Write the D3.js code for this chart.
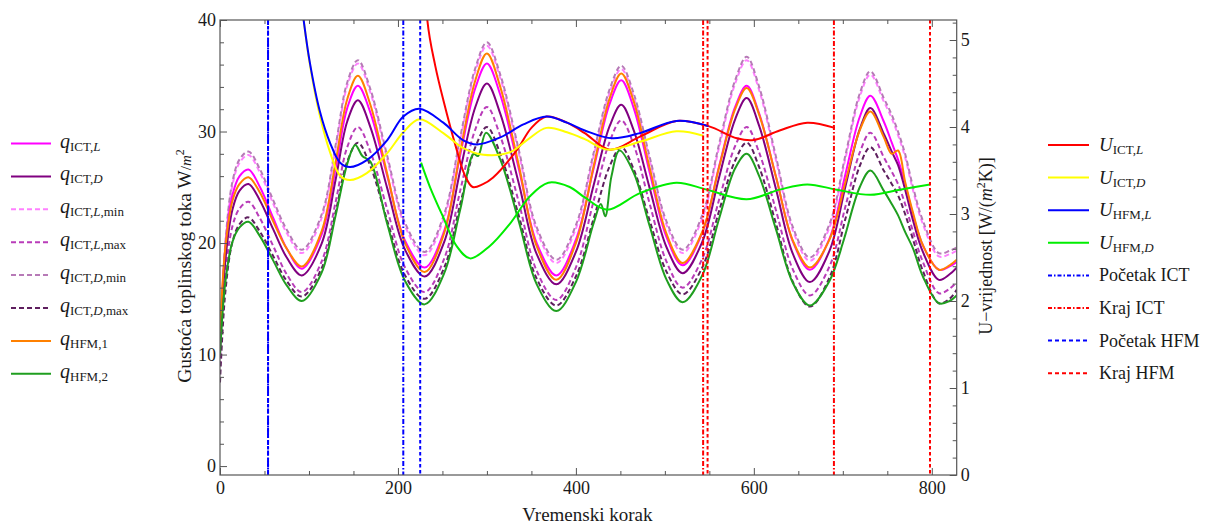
<!DOCTYPE html>
<html><head><meta charset="utf-8">
<script src="https://cdn.jsdelivr.net/npm/d3@7"></script>
<style>
body{margin:0;background:#fff}
text{font-family:"Liberation Serif","Times New Roman",serif;fill:#1a1a1a}
</style></head>
<body><svg id="c" width="1216" height="529"></svg>
<script>
// ---------- data ----------
const qSteps = [0,6,14,22,32,45,60,75,92,114,130,143,155,169,188,208,230,252,270,287,300,315,336,356,378,400,420,438,451,465,483,502,520,542,561,579,592,606,625,644,663,685,703,719,731,746,755,762,770,779,790,808,820,828];
const qIctL = [11.0,19.6,24.3,26.0,26.6,25.0,22.2,19.5,17.7,20.7,26.7,32.1,34.1,31.7,26.0,20.2,17.8,21.1,27.9,33.9,36.1,33.3,26.6,20.0,17.1,20.3,26.7,32.5,34.6,32.1,26.3,20.5,18.0,20.9,26.9,32.2,34.1,31.6,25.9,20.1,17.6,20.4,26.2,31.3,33.2,30.9,29.0,27.5,25.3,22.5,19.8,17.6,17.9,18.3];
const qIctD = [10.0,18.4,23.0,24.7,25.3,23.8,21.2,18.7,17.1,19.9,25.7,30.9,32.8,30.4,24.9,19.4,17.0,20.1,26.5,32.2,34.3,31.6,25.3,19.0,16.3,19.2,25.2,30.5,32.4,30.1,24.9,19.6,17.3,20.1,25.9,31.1,33.0,30.5,24.8,19.0,16.5,19.3,25.1,30.2,32.1,29.8,28.2,27.0,24.8,22.0,19.2,16.7,17.2,17.8];
const qIctLMin = [9.7,19.7,25.2,27.2,27.9,26.3,23.5,20.9,19.1,22.2,28.5,34.1,36.1,33.5,27.5,21.5,18.9,22.3,29.2,35.4,37.7,34.8,28.0,21.1,18.2,21.3,27.8,33.5,35.6,33.1,27.4,21.6,19.1,22.2,28.6,34.3,36.4,33.7,27.4,21.1,18.4,21.4,27.6,33.1,35.1,32.7,31.2,29.7,27.7,24.7,21.7,18.8,19.0,19.3];
const qIctLMax = [9.0,17.1,21.5,23.1,23.7,22.2,19.7,17.2,15.6,18.3,23.7,28.6,30.4,28.2,23.0,17.8,15.6,18.6,24.7,30.2,32.2,29.6,23.6,17.5,14.9,17.8,23.8,29.1,31.0,28.8,23.5,18.3,16.0,18.6,23.9,28.7,30.4,28.1,22.9,17.6,15.3,17.9,23.3,28.1,29.9,27.7,26.4,25.3,23.5,21.0,18.3,15.5,15.9,16.5];
const qIctDMin = [10.0,20.0,25.5,27.5,28.2,26.6,23.8,21.2,19.4,22.5,28.8,34.4,36.4,33.8,27.8,21.8,19.2,22.6,29.5,35.7,38.0,35.1,28.3,21.4,18.5,21.6,28.1,33.8,35.9,33.4,27.7,21.9,19.4,22.5,28.9,34.6,36.7,34.0,27.7,21.4,18.7,21.7,27.9,33.4,35.4,33.0,31.5,30.0,28.0,25.0,22.0,19.1,19.3,19.6];
const qIctDMax = [7.5,15.6,20.1,21.7,22.3,21.0,18.8,16.6,15.2,17.7,22.8,27.3,29.0,26.9,22.0,17.1,15.0,17.8,23.5,28.6,30.4,28.0,22.4,16.8,14.4,17.0,22.2,26.9,28.6,26.6,22.0,17.4,15.4,17.8,22.9,27.4,29.0,26.8,21.7,16.5,14.3,16.9,22.2,26.9,28.6,26.5,25.3,24.3,22.6,20.3,17.5,14.6,15.0,15.8];
const qHfm1 = [11.8,19.6,23.8,25.3,25.9,24.5,21.9,19.5,17.9,21.0,27.3,32.9,35.0,32.4,26.2,20.0,17.4,20.9,28.2,34.6,37.0,34.0,26.9,19.7,16.7,20.0,26.9,33.0,35.2,32.7,26.7,20.8,18.2,21.0,26.8,32.0,33.9,31.5,25.9,20.2,17.8,20.3,25.5,30.1,31.8,29.5,28.0,28.3,25.5,22.7,19.8,17.6,18.0,18.5];
const qHfm2Steps = [0,6,14,22,32,45,60,75,92,114,130,143,152,160,169,188,208,230,252,270,285,290,299,315,336,356,378,400,420,428,433,440,449,465,483,502,520,542,561,579,592,606,625,644,663,685,700,703,719,731,746,755,762,770,779,790,808,820,828];
const qHfm2 = [10.0,16.5,20.1,21.4,21.9,20.6,18.4,16.2,14.8,17.3,22.5,27.1,28.8,27.8,27.3,21.7,16.6,14.5,17.3,23.0,28.0,27.8,29.9,27.5,21.9,16.3,13.9,16.5,21.8,23.5,22.4,26.0,28.3,26.3,21.5,16.7,14.7,17.1,22.2,26.7,28.0,26.0,21.2,16.4,14.4,16.6,20.0,20.8,25.0,26.5,24.7,23.5,22.5,21.0,19.5,17.0,14.6,14.8,15.3];

const uIctLSteps = [206,215,225,233,242,251,266,275,284,295,307,334,350,367,390,410,438,472,513,549,581,600,629,660,691];
const uIctL = [30,15,7.5,5.23,4.70,4.31,3.74,3.45,3.31,3.34,3.42,3.74,3.99,4.12,4.05,3.93,3.74,3.89,4.07,4.01,3.87,3.85,3.96,4.05,3.99];
const uIctDSteps = [54,70,85,94,101,112,124,135,146,165,188,206,224,251,273,296,326,345,367,390,410,436,472,513,543];
const uIctD = [14,8.5,6.0,5.23,4.72,4.14,3.70,3.44,3.39,3.47,3.70,3.94,4.09,3.93,3.76,3.68,3.71,3.85,3.99,3.94,3.86,3.74,3.83,3.95,3.90];
const uHfmLSteps = [54,70,85,94,101,112,124,135,146,165,188,206,224,251,273,289,315,341,367,390,410,441,472,513,549];
const uHfmL = [14,8.5,6.0,5.23,4.74,4.19,3.81,3.59,3.54,3.62,3.85,4.12,4.21,4.05,3.85,3.80,3.88,4.03,4.12,4.05,3.96,3.87,3.93,4.07,4.01];
const uHfmDSteps = [226,236,251,266,281,303,326,348,369,393,410,435,472,513,547,592,629,660,693,731,764,798];
const uHfmD = [3.59,3.31,2.96,2.63,2.49,2.63,2.89,3.20,3.36,3.31,3.19,3.05,3.24,3.36,3.28,3.17,3.28,3.34,3.28,3.22,3.28,3.34];

const startIct = [54,206];
const endIct = [543,690];
const startHfm = [54,225];
const endHfm = [548,798];

const xMajor = [0,200,400,600,800];
const yLeftMajor = [0,10,20,30,40];
const yRightMajor = [0,1,2,3,4,5];

// ---------- layout ----------
const svg = d3.select("#c");
const L=220, R=956.7, T=20, B=475;
const x = d3.scaleLinear().domain([0,828]).range([L,R]);
const yL = d3.scaleLinear().domain([-0.8,40]).range([B,T]);
const yR = d3.scaleLinear().domain([0,5.23]).range([B,T]);

svg.append("defs").append("clipPath").attr("id","clip")
  .append("rect").attr("x",L).attr("y",T).attr("width",R-L).attr("height",B-T);

const plot = svg.append("g").attr("clip-path","url(#clip)");

const lineL = d3.line().x(d=>x(d[0])).y(d=>yL(d[1])).curve(d3.curveCatmullRom);
const lineR = d3.line().x(d=>x(d[0])).y(d=>yR(d[1])).curve(d3.curveCatmullRom);

const qSeries = [
  {xs:qSteps, ys:qIctLMin, color:"#ff80ff", dash:"5,3"},
  {xs:qSteps, ys:qIctLMax, color:"#b93cb9", dash:"5,3"},
  {xs:qSteps, ys:qIctDMax, color:"#5e1f5e", dash:"5,3"},
  {xs:qSteps, ys:qIctDMin, color:"#b77ab7", dash:"5,3"},
  {xs:qSteps, ys:qIctL, color:"#ff00ff", dash:null},
  {xs:qSteps, ys:qIctD, color:"#800080", dash:null},
  {xs:qSteps, ys:qHfm1, color:"#ff8000", dash:null},
  {xs:qHfm2Steps, ys:qHfm2, color:"#1f9e1f", dash:null}
];
qSeries.forEach(s=>{
  plot.append("path").datum(d3.zip(s.xs,s.ys))
    .attr("d",lineL).attr("fill","none").attr("stroke",s.color)
    .attr("stroke-width",2).attr("stroke-dasharray",s.dash);
});

const uSeries = [
  {xs:uIctLSteps, ys:uIctL, color:"#ff0000"},
  {xs:uIctDSteps, ys:uIctD, color:"#ffff00"},
  {xs:uHfmLSteps, ys:uHfmL, color:"#0000ff"},
  {xs:uHfmDSteps, ys:uHfmD, color:"#00ee00"}
];
uSeries.forEach(s=>{
  plot.append("path").datum(d3.zip(s.xs,s.ys))
    .attr("d",lineR).attr("fill","none").attr("stroke",s.color)
    .attr("stroke-width",2);
});

const vLines = [
  {vals:startIct, color:"#0000ff", dash:"5,2,1.5,2"},
  {vals:endIct, color:"#ff0000", dash:"5,2,1.5,2"},
  {vals:startHfm, color:"#0000ff", dash:"3.5,2.5"},
  {vals:endHfm, color:"#ff0000", dash:"3.5,2.5"}
];
vLines.forEach(v=>{
  plot.selectAll(null).data(v.vals).enter().append("line")
    .attr("x1",d=>x(d)).attr("x2",d=>x(d)).attr("y1",T).attr("y2",B)
    .attr("stroke",v.color).attr("stroke-width",2).attr("stroke-dasharray",v.dash);
});

// ---------- frame & axes ----------
svg.append("rect").attr("x",L).attr("y",T).attr("width",R-L).attr("height",B-T)
  .attr("fill","none").attr("stroke","#555").attr("stroke-width",1.2);

function styleAxis(g, labels){
  g.select(".domain").remove();
  g.selectAll(".tick line").attr("stroke","#555").attr("stroke-width",1);
  g.attr("font-family",null).attr("font-size",null);
  g.selectAll("text").style("font-size","18px").attr("fill","#1a1a1a");
  if(!labels) g.selectAll("text").remove();
}
const xMinor = d3.range(0,829,50).filter(v=>!xMajor.includes(v));
const yLMinor = d3.range(0,41,2).filter(v=>!yLeftMajor.includes(v));
const yRMinor = d3.range(0,5.21,0.2).map(v=>+v.toFixed(1)).filter(v=>!yRightMajor.includes(v));

styleAxis(svg.append("g").attr("transform",`translate(0,${B})`).call(d3.axisBottom(x).tickValues(xMajor).tickSize(-7).tickPadding(6)), true);
styleAxis(svg.append("g").attr("transform",`translate(0,${B})`).call(d3.axisBottom(x).tickValues(xMinor).tickSize(-4)), false);
styleAxis(svg.append("g").attr("transform",`translate(0,${T})`).call(d3.axisTop(x).tickValues(xMajor).tickSize(-7)), false);
styleAxis(svg.append("g").attr("transform",`translate(0,${T})`).call(d3.axisTop(x).tickValues(xMinor).tickSize(-4)), false);
styleAxis(svg.append("g").attr("transform",`translate(${L},0)`).call(d3.axisLeft(yL).tickValues(yLeftMajor).tickSize(-7).tickPadding(4)), true);
styleAxis(svg.append("g").attr("transform",`translate(${L},0)`).call(d3.axisLeft(yL).tickValues(yLMinor).tickSize(-4)), false);
styleAxis(svg.append("g").attr("transform",`translate(${R},0)`).call(d3.axisRight(yR).tickValues(yRightMajor).tickFormat(d3.format("d")).tickSize(-7).tickPadding(4)), true);
styleAxis(svg.append("g").attr("transform",`translate(${R},0)`).call(d3.axisRight(yR).tickValues(yRMinor).tickSize(-4)), false);

// axis titles
svg.append("text").attr("x",(L+R)/2-1).attr("y",521).attr("text-anchor","middle")
  .style("font-size","19px").text("Vremenski korak");

const yt = svg.append("text").attr("transform","translate(191,266) rotate(-90)")
  .attr("text-anchor","middle").style("font-size","19.5px");
yt.append("tspan").text("Gustoća toplinskog toka W");
yt.append("tspan").style("font-size","15px").text("/");
yt.append("tspan").style("font-size","15px").style("font-style","italic").text("m");
yt.append("tspan").style("font-size","12px").attr("dy",-7).text("2");

const yt2 = svg.append("text").attr("transform","translate(992,246) rotate(-90)")
  .attr("text-anchor","middle").style("font-size","18px");
yt2.append("tspan").text("U\u2212vrijednost [W/(");
yt2.append("tspan").style("font-style","italic").text("m");
yt2.append("tspan").style("font-size","12px").attr("dy",-7).text("2");
yt2.append("tspan").attr("dy",7).text("K)]");

// ---------- legends ----------
const leftLegend = [
  {sub:[["ICT,",0],["L",1]], color:"#ff00ff", dash:null},
  {sub:[["ICT,",0],["D",1]], color:"#800080", dash:null},
  {sub:[["ICT,",0],["L",1],[",min",0]], color:"#ff80ff", dash:"5,3"},
  {sub:[["ICT,",0],["L",1],[",max",0]], color:"#b93cb9", dash:"5,3"},
  {sub:[["ICT,",0],["D",1],[",min",0]], color:"#b77ab7", dash:"5,3"},
  {sub:[["ICT,",0],["D",1],[",max",0]], color:"#5e1f5e", dash:"5,3"},
  {sub:[["HFM,1",0]], color:"#ff8000", dash:null},
  {sub:[["HFM,2",0]], color:"#1f9e1f", dash:null}
];
const lg = svg.append("g");
leftLegend.forEach((d,i)=>{
  const y = 143.5 + i*32.9;
  lg.append("line").attr("x1",11).attr("x2",51).attr("y1",y).attr("y2",y)
    .attr("stroke",d.color).attr("stroke-width",2).attr("stroke-dasharray",d.dash);
  const t = lg.append("text").attr("x",60).attr("y",y+4);
  t.append("tspan").style("font-size","20px").style("font-style","italic").text("q");
  d.sub.forEach((p,j)=>{
    const ts = t.append("tspan").style("font-size","13px").text(p[0]);
    if(p[1]) ts.style("font-style","italic");
    if(j===0) ts.attr("dy",3);
  });
});

const rightLegend = [
  {U:true, sub:[["ICT,",0],["L",1]], color:"#ff0000", dash:null},
  {U:true, sub:[["ICT,",0],["D",1]], color:"#ffff00", dash:null},
  {U:true, sub:[["HFM,",0],["L",1]], color:"#0000ff", dash:null},
  {U:true, sub:[["HFM,",0],["D",1]], color:"#00ee00", dash:null},
  {U:false, text:"Početak ICT", color:"#0000ff", dash:"4,2,1.5,2"},
  {U:false, text:"Kraj ICT", color:"#ff0000", dash:"4,2,1.5,2"},
  {U:false, text:"Početak HFM", color:"#0000ff", dash:"4,3"},
  {U:false, text:"Kraj HFM", color:"#ff0000", dash:"4,3"}
];
const rg = svg.append("g");
rightLegend.forEach((d,i)=>{
  const y = 145 + i*32.6;
  rg.append("line").attr("x1",1048).attr("x2",1089).attr("y1",y).attr("y2",y)
    .attr("stroke",d.color).attr("stroke-width",2).attr("stroke-dasharray",d.dash);
  const t = rg.append("text").attr("x",1099).attr("y",y+6);
  if(d.U){
    t.append("tspan").style("font-size","19px").style("font-style","italic").text("U");
    d.sub.forEach((p,j)=>{
      const ts = t.append("tspan").style("font-size","13px").text(p[0]);
      if(p[1]) ts.style("font-style","italic");
      if(j===0) ts.attr("dy",3);
    });
  } else {
    t.style("font-size","18px").text(d.text);
  }
});
</script>
</body></html>
